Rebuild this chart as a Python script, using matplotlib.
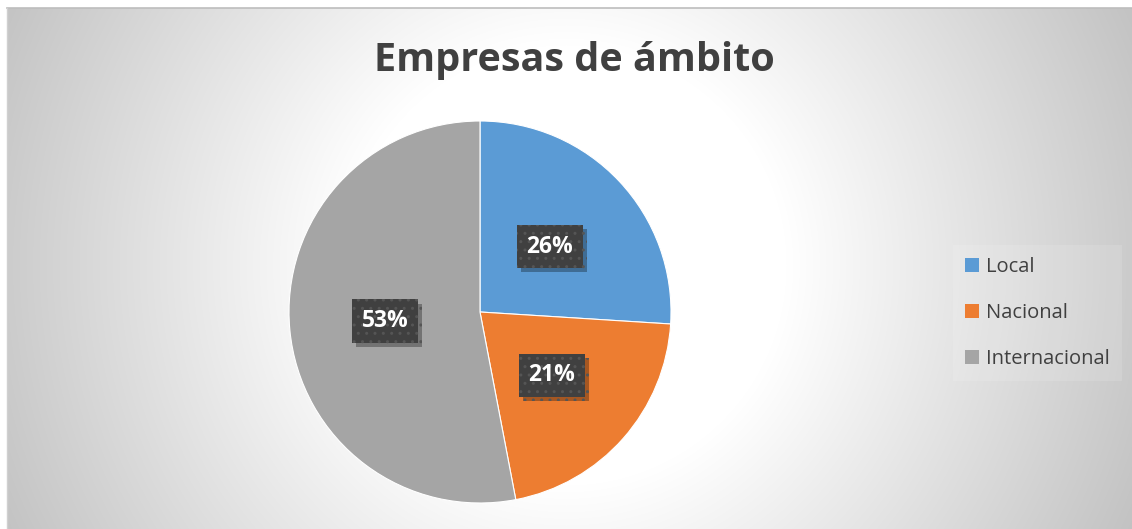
import numpy as np
import matplotlib
matplotlib.use("Agg")
import matplotlib.pyplot as plt
from matplotlib import patheffects as pe
from matplotlib.patches import Patch

title = "Empresas de ámbito"
categories = ["Local", "Nacional", "Internacional"]
values = [26, 21, 53]
colors = ["#5B9BD5", "#ED7D31", "#A5A5A5"]

W, H = 1132, 529
fig = plt.figure(figsize=(W / 100, H / 100), dpi=100)
fig.patch.set_facecolor("white")

# background with radial gradient
x0, y0 = 7, 8
bg = fig.add_axes([x0 / W, 0, 1 - x0 / W, (H - y0) / H])
yy, xx = np.mgrid[y0:H, x0:W]
r = np.hypot(xx - 566, yy - 265)
v = 255 - 0.15 * np.clip(r - 220, 0, None)
v = np.clip(v, 190, 255) / 255.0
img = np.dstack([v, v, v])
bg.imshow(img, aspect="auto", extent=[0, 1, 0, 1], origin="upper")
bg.set_xlim(0, 1); bg.set_ylim(0, 1)
bg.axis("off")
fig.add_artist(plt.Line2D([x0 / W, 1], [1 - y0 / H, 1 - y0 / H], color="#bdbdbd", lw=1.2))
fig.add_artist(plt.Line2D([x0 / W, x0 / W], [0, 1 - y0 / H], color="#d0d0d0", lw=1.0))

# pie
R = 191
cx, cy = 480, 312
ax = fig.add_axes([(cx - R) / W, (H - cy - R) / H, 2 * R / W, 2 * R / H])
wedges, texts, autotexts = ax.pie(
    values, colors=colors, startangle=90, counterclock=False,
    autopct=lambda p: f"{p:.0f}%", pctdistance=0.5,
    wedgeprops=dict(edgecolor="white", linewidth=0.8),
    textprops=dict(color="white", fontsize=16.5, fontweight="bold", family="Open Sans"),
    radius=1.0)
ax.set_xlim(-1, 1); ax.set_ylim(-1, 1)
ax.set_aspect("auto")
for t in autotexts:
    t.set_bbox(dict(boxstyle="square,pad=0.42", facecolor="#404040", edgecolor="#555555",
                    hatch="..", linewidth=0))
    t.get_bbox_patch().set_path_effects([
        pe.SimplePatchShadow(offset=(3, -3), shadow_rgbFace="black", alpha=0.3),
        pe.Normal()])

fig.text(574 / W, 1 - 61 / H, title, ha="center", va="center", fontsize=28.5,
         fontweight="bold", color="#404040", family="Open Sans")

handles = [Patch(facecolor=c, edgecolor="none") for c in colors]
leg = fig.legend(handles, categories, loc="center left",
                 bbox_to_anchor=(943 / W, 1 - 313 / H), frameon=True,
                 labelspacing=1.3, handlelength=0.7, handleheight=0.7,
                 handletextpad=0.35, borderpad=0.6, prop=dict(family="Open Sans", size=14.5))
leg.get_frame().set_facecolor("white")
leg.get_frame().set_alpha(0.12)
leg.get_frame().set_edgecolor("none")
leg.get_frame().set_boxstyle("square,pad=0")
for t in leg.get_texts():
    t.set_color("#404040")

fig.savefig("out.png", dpi=100, facecolor="white")
